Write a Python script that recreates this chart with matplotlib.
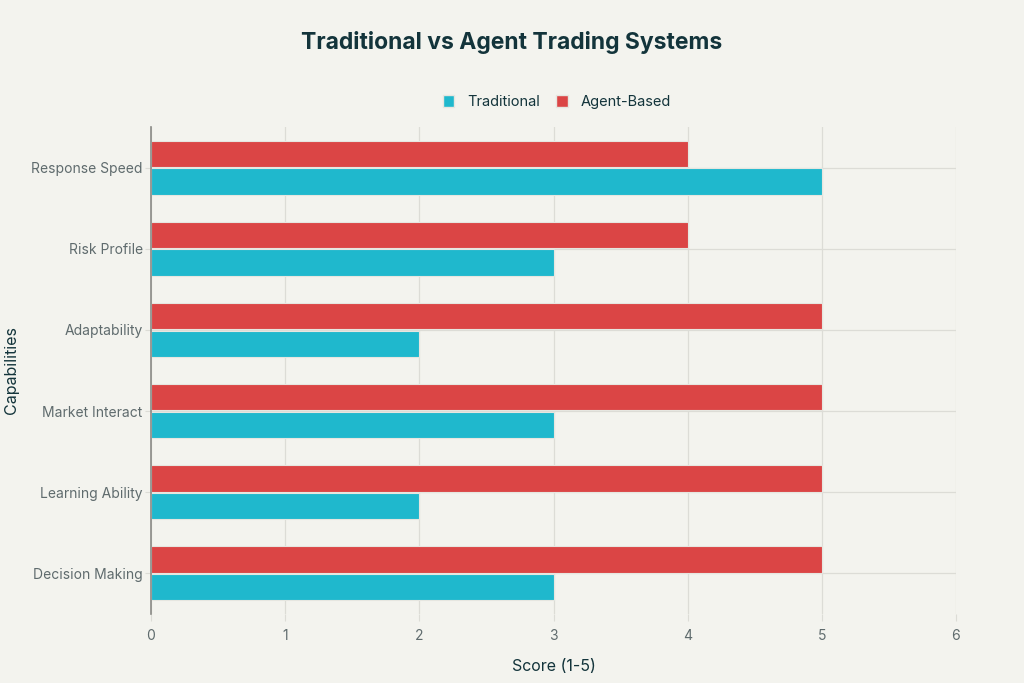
import matplotlib
matplotlib.use("Agg")
import matplotlib.pyplot as plt
import numpy as np
from matplotlib.patches import Patch

categories = ["Decision Making", "Learning Ability", "Market Interact",
              "Adaptability", "Risk Profile", "Response Speed"]
traditional = [3, 2, 3, 2, 3, 5]
agent_based = [5, 5, 5, 5, 4, 4]
xticks = [0, 1, 2, 3, 4, 5, 6]

BG = "#F3F3EE"
CYAN = "#1FB8CD"
RED = "#DB4545"
TITLE_C = "#13343B"
TICK_C = "#5F6B6D"

plt.rcParams['font.family'] = ['Inter', 'DejaVu Sans']

fig = plt.figure(figsize=(10.24, 6.83), dpi=100, facecolor=BG)
ax = fig.add_axes([151/1024, 1 - 614/683, (956-151)/1024, (614-127)/683])
ax.set_facecolor(BG)

y = np.arange(len(categories))
h = 0.325
ax.barh(y - 0.17, traditional, height=h, color=CYAN, edgecolor="#E6E6E0", linewidth=0.8, zorder=3)
ax.barh(y + 0.17, agent_based, height=h, color=RED, edgecolor="#E6E6E0", linewidth=0.8, zorder=3)

ax.set_xlim(0, 6)
ax.set_ylim(-0.5, len(categories) - 0.5)
ax.set_xticks(xticks)
ax.set_xticklabels([str(t) for t in xticks])
ax.set_yticks(y)
ax.set_yticklabels(categories)

ax.grid(True, axis="both", color="#DCDCD6", linewidth=0.9, zorder=0)
for s in ["top", "right", "bottom"]:
    ax.spines[s].set_visible(False)
ax.spines["left"].set_color("#8A8A86")
ax.spines["left"].set_linewidth(1.2)
ax.spines["left"].set_zorder(4)
ax.tick_params(axis="both", colors="#DCDCD6", labelcolor=TICK_C, labelsize=10, length=5)
ax.tick_params(axis="x", pad=6)
ax.tick_params(axis="y", pad=2, length=4)

ax.set_xlabel("Score (1-5)", fontsize=11.5, color=TITLE_C, labelpad=11)
fig.text(12/1024, 1 - 370/683, "Capabilities", rotation=90, ha="center", va="center",
         fontsize=11.5, color=TITLE_C)

fig.text(512/1024, 1 - 42/683, "Traditional vs Agent Trading Systems", ha="center", va="center",
         fontsize=16.5, fontweight="bold", color=TITLE_C)

handles = [Patch(facecolor=CYAN, edgecolor="#E6E6E0"), Patch(facecolor=RED, edgecolor="#E6E6E0")]
fig.legend(handles, ["Traditional", "Agent-Based"], loc="center", bbox_to_anchor=(557/1024, 1 - 102/683),
           ncol=2, frameon=False, fontsize=10.5, labelcolor=TITLE_C, handlelength=0.8, handleheight=0.8,
           handletextpad=0.9, columnspacing=1.1)

fig.savefig("out.png", dpi=100, facecolor=BG)
